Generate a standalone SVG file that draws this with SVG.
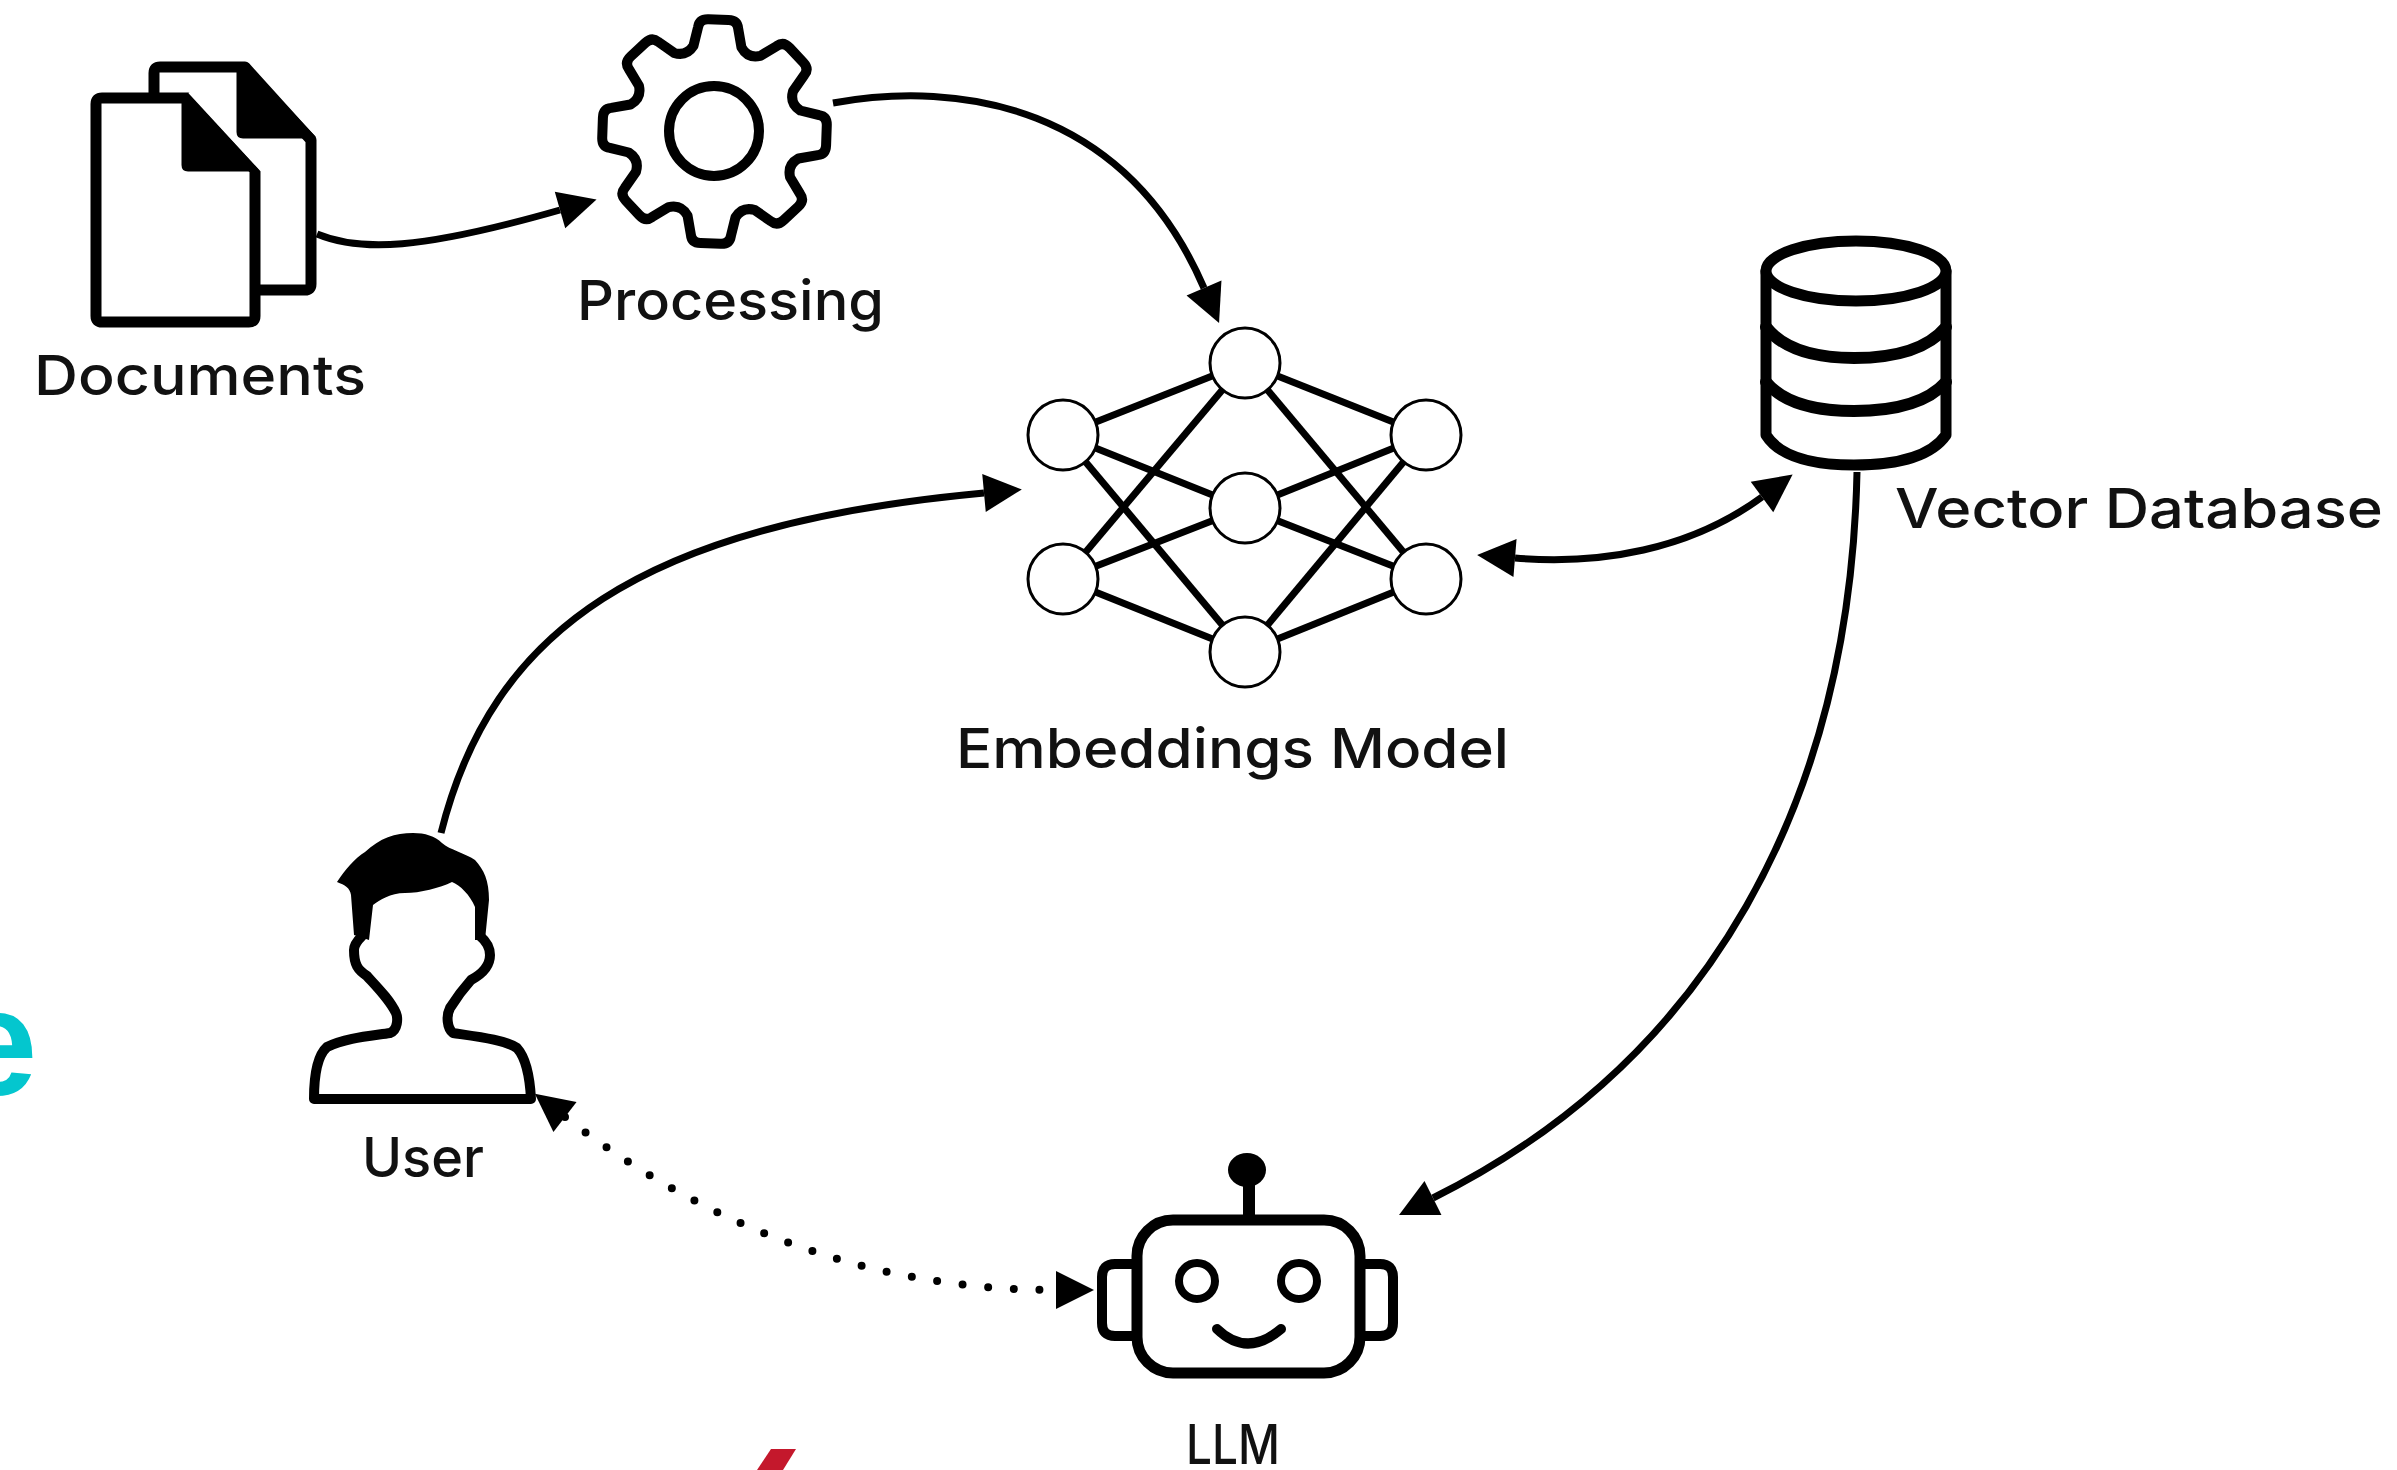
<svg xmlns="http://www.w3.org/2000/svg" width="2397" height="1470" viewBox="0 0 2397 1470">
  <style>
    .label { font-family: "Inter", "Liberation Sans", sans-serif; font-size: 55px; font-weight: 500; fill: #111; }
    .icon { fill: #fff; stroke: #000; stroke-width: 11; stroke-linejoin: round; stroke-linecap: round; }
    .line { fill: none; stroke: #000; stroke-width: 10; stroke-linecap: round; stroke-linejoin: round; }
    .solid { fill: #000; stroke: #000; stroke-width: 3; stroke-linejoin: round; }
    .edge { fill: none; stroke: #000; stroke-width: 7; }
    .dotted { stroke-width: 8; stroke-linecap: round; stroke-dasharray: 0 25.7; }
    .nn-link { stroke: #000; stroke-width: 7; }
    .nn-node { fill: #fff; stroke: #000; stroke-width: 3; }
  </style>
  <defs>
    <marker id="head" markerUnits="userSpaceOnUse" markerWidth="44" markerHeight="44" refX="2" refY="22" orient="auto-start-reverse">
      <path d="M2 3 L40 22 L2 41 Z" fill="#000"/>
    </marker>
  </defs>
  <rect width="2397" height="1470" fill="#fff"/>

  <text x="-47" y="1095" font-family="'Liberation Sans', sans-serif" font-size="152" font-weight="700" fill="#04c6ce">e</text>
  <polygon points="771,1449 796,1449 783,1470 757,1470" fill="#c4182c"/>

  <g id="connectors">
    <path class="edge" marker-end="url(#head)" d="M317 234 C 360 252, 420 250, 560 210"/>
    <path class="edge" marker-end="url(#head)" d="M833 103 C 960 80, 1125 105, 1204 288"/>
    <path class="edge" marker-end="url(#head)" d="M441 833 C 492 630, 640 525, 984 493"/>
    <path class="edge" marker-start="url(#head)" marker-end="url(#head)" d="M1515 558 C 1600 565, 1690 550, 1762 497"/>
    <path class="edge" marker-end="url(#head)" d="M1857 472 C 1850 800, 1710 1060, 1433 1198"/>
    <path class="edge dotted" marker-start="url(#head)" marker-end="url(#head)" d="M565 1117 C 690 1213, 850 1290, 1056 1290"/>
  </g>

  <g id="documents">
    <path class="icon" d="M154 290 V73 Q154 67 160 67 H245 L311 140 V284 Q311 290 305 290 Z"/>
    <path class="solid" d="M238 66 H247 L314 137 H243 Q238 137 238 132 Z"/>
    <path class="icon" d="M96 104 Q96 98 102 98 H188 L255 170 V316 Q255 322 249 322 H102 Q96 322 96 316 Z"/>
    <path d="M262 170 L190 92" fill="none" stroke="#fff" stroke-width="4"/>
    <path class="solid" d="M183 98 H190 L257 170 H188 Q183 170 183 165 Z"/>
    <text class="label" x="34" y="395" textLength="332" lengthAdjust="spacingAndGlyphs">Documents</text>
  </g>

  <g id="processing">
    <path class="icon" style="stroke-width:10" transform="translate(714.5 131.5) rotate(2)" d="M-24 -85 L-20 -104 Q-19 -112 -10 -112 H10 Q19 -112 20 -104 L24 -85 Q30.6 -73.9 43.1 -77.1 L59.4 -87.7 Q65.8 -92.6 72.1 -86.3 L86.3 -72.1 Q92.6 -65.8 87.7 -59.4 L77.1 -43.1 Q73.9 -30.6 85 -24 L104 -20 Q112 -19 112 -10 V10 Q112 19 104 20 L85 24 Q73.9 30.6 77.1 43.1 L87.7 59.4 Q92.6 65.8 86.3 72.1 L72.1 86.3 Q65.8 92.6 59.4 87.7 L43.1 77.1 Q30.6 73.9 24 85 L20 104 Q19 112 10 112 H-10 Q-19 112 -20 104 L-24 85 Q-30.6 73.9 -43.1 77.1 L-59.4 87.7 Q-65.8 92.6 -72.1 86.3 L-86.3 72.1 Q-92.6 65.8 -87.7 59.4 L-77.1 43.1 Q-73.9 30.6 -85 24 L-104 20 Q-112 19 -112 10 V-10 Q-112 -19 -104 -20 L-85 -24 Q-73.9 -30.6 -77.1 -43.1 L-87.7 -59.4 Q-92.6 -65.8 -86.3 -72.1 L-72.1 -86.3 Q-65.8 -92.6 -59.4 -87.7 L-43.1 -77.1 Q-30.6 -73.9 -24 -85 Z"/>
    <circle class="icon" style="stroke-width:10" cx="714" cy="131" r="45"/>
    <text class="label" x="577" y="320" textLength="307" lengthAdjust="spacingAndGlyphs">Processing</text>
  </g>

  <g id="embeddings-model">
    <g class="nn-link">
      <line x1="1063" y1="435" x2="1245" y2="363"/>
      <line x1="1063" y1="435" x2="1245" y2="508"/>
      <line x1="1063" y1="435" x2="1245" y2="652"/>
      <line x1="1063" y1="579" x2="1245" y2="363"/>
      <line x1="1063" y1="579" x2="1245" y2="508"/>
      <line x1="1063" y1="579" x2="1245" y2="652"/>
      <line x1="1426" y1="435" x2="1245" y2="363"/>
      <line x1="1426" y1="435" x2="1245" y2="508"/>
      <line x1="1426" y1="435" x2="1245" y2="652"/>
      <line x1="1426" y1="579" x2="1245" y2="363"/>
      <line x1="1426" y1="579" x2="1245" y2="508"/>
      <line x1="1426" y1="579" x2="1245" y2="652"/>
    </g>
    <circle class="nn-node" cx="1245" cy="363" r="35"/>
    <circle class="nn-node" cx="1245" cy="508" r="35"/>
    <circle class="nn-node" cx="1245" cy="652" r="35"/>
    <circle class="nn-node" cx="1063" cy="435" r="35"/>
    <circle class="nn-node" cx="1063" cy="579" r="35"/>
    <circle class="nn-node" cx="1426" cy="435" r="35"/>
    <circle class="nn-node" cx="1426" cy="579" r="35"/>
    <text class="label" x="956" y="768" textLength="553" lengthAdjust="spacingAndGlyphs">Embeddings Model</text>
  </g>

  <g id="vector-database">
    <path class="icon" d="M1766 271 V435 Q1785 465 1854 465 Q1925 465 1946 435 V271 Z"/>
    <ellipse class="icon" cx="1856" cy="271" rx="90" ry="30"/>
    <path class="line" style="stroke-width:12" d="M1766 327 Q1790 358 1854 358 Q1920 358 1946 327"/>
    <path class="line" style="stroke-width:12" d="M1766 382 Q1790 411 1854 411 Q1920 411 1946 382"/>
    <text class="label" x="1895" y="528" textLength="488" lengthAdjust="spacingAndGlyphs">Vector Database</text>
  </g>

  <g id="user">
    <path class="line" d="M362 936 C 357 941, 354 945, 354 950 C 354 965, 358 970, 367 976 C 378 988, 390 1000, 396 1013 C 398 1018, 398 1030, 390 1033 C 370 1036, 345 1038, 327 1047 C 318 1055, 314 1075, 314 1099 H531 C 530 1080, 526 1058, 517 1048 C 505 1040, 480 1037, 453 1033 C 447 1028, 446 1016, 450 1008 C 455 1000, 462 990, 471 980 C 484 973, 490 965, 490 955 C 490 947, 486 941, 480 936"/>
    <path d="M337 882 C 345 870, 355 858, 365 852 C 380 838, 395 833, 413 833 C 425 833, 435 836, 442 843 C 450 850, 465 853, 475 860 C 484 870, 489 880, 489 900 L485 940 H475 L475 907 C 470 895, 460 885, 452 882 C 440 888, 420 893, 405 893 C 390 893, 380 900, 373 905 L369 940 L354 935 L351 895 C 350 888, 345 885, 337 882 Z" fill="#000"/>
    <text class="label" x="362" y="1177" textLength="122" lengthAdjust="spacingAndGlyphs">User</text>
  </g>

  <g id="llm">
    <path class="line" d="M1137 1264 H1115 Q1102 1264 1102 1277 V1323 Q1102 1336 1115 1336 H1137"/>
    <path class="line" d="M1360 1264 H1380 Q1393 1264 1393 1277 V1323 Q1393 1336 1380 1336 H1360"/>
    <line class="line" style="stroke-width:12" x1="1249" y1="1220" x2="1249" y2="1180"/>
    <ellipse cx="1247" cy="1170" rx="19" ry="17" fill="#000"/>
    <rect class="icon" x="1137" y="1220" width="223" height="153" rx="36" ry="36"/>
    <circle class="icon" style="stroke-width:8" cx="1197" cy="1281" r="18"/>
    <circle class="icon" style="stroke-width:8" cx="1299" cy="1281" r="18"/>
    <path class="line" d="M1217 1329 Q1247 1358 1281 1329"/>
    <text class="label" x="1186" y="1464" textLength="94" lengthAdjust="spacingAndGlyphs">LLM</text>
  </g>
</svg>
